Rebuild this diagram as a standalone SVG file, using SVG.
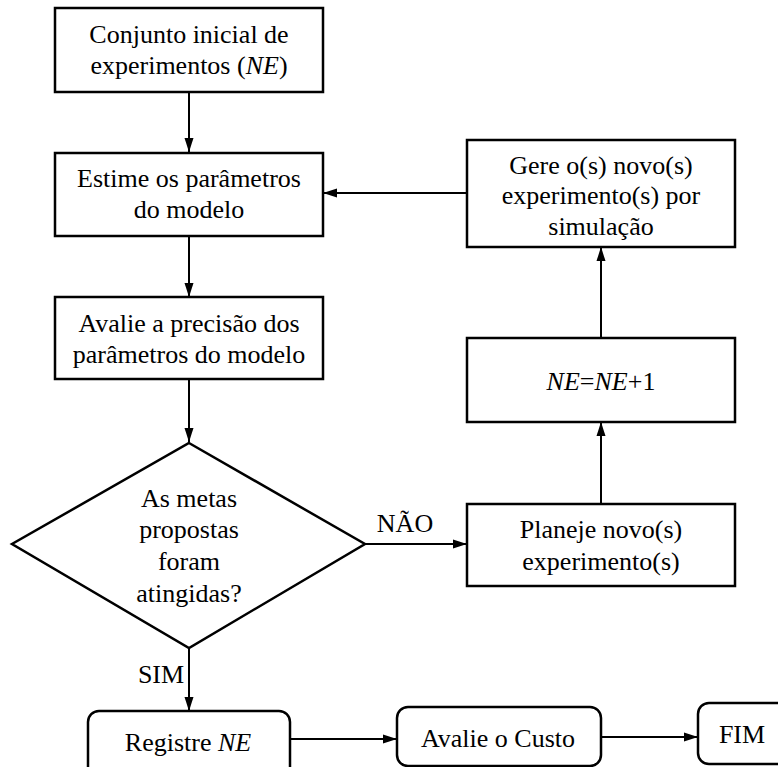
<svg xmlns="http://www.w3.org/2000/svg" width="778" height="767" viewBox="0 0 778 767">
<style>
.box{fill:#fff;stroke:#000;stroke-width:2.5}
.t{font-family:'Liberation Serif',serif;font-size:26px;fill:#000;text-anchor:middle}
.c{stroke:#000;stroke-width:2;fill:none;marker-end:url(#ah)}
</style>
<defs>
<marker id="ah" markerUnits="userSpaceOnUse" markerWidth="14" markerHeight="10" refX="14" refY="5" orient="auto">
<path d="M0,0.5 L14,5 L0,9.5 z" fill="#000"/>
</marker>
</defs>
<rect width="778" height="767" fill="#fff"/>
<g id="connectors">
<line class="c" x1="189" y1="92" x2="189" y2="152"/>
<line class="c" x1="189" y1="236" x2="189" y2="297"/>
<line class="c" x1="189" y1="379" x2="189" y2="442"/>
<line class="c" x1="365" y1="544" x2="467" y2="544"/>
<line class="c" x1="601" y1="504" x2="601" y2="422"/>
<line class="c" x1="601" y1="338" x2="601" y2="247"/>
<line class="c" x1="467" y1="193" x2="323" y2="193"/>
<line class="c" x1="189" y1="648" x2="189" y2="711"/>
<line class="c" x1="290" y1="739" x2="397" y2="739"/>
<line class="c" x1="601" y1="737" x2="698" y2="737"/>
</g>
<g id="n1">
<rect class="box" x="55" y="8" width="268" height="84"/>
<text class="t" x="189" y="43">Conjunto inicial de</text>
<text class="t" x="189" y="74">experimentos (<tspan font-style="italic">NE</tspan>)</text>
</g>
<g id="n2">
<rect class="box" x="55" y="153" width="268" height="83"/>
<text class="t" x="189" y="187">Estime os parâmetros</text>
<text class="t" x="189" y="218">do modelo</text>
</g>
<g id="n3">
<rect class="box" x="55" y="297" width="268" height="82"/>
<text class="t" x="189" y="332">Avalie a precisão dos</text>
<text class="t" x="189" y="363">parâmetros do modelo</text>
</g>
<g id="decision">
<polygon class="box" points="189,443 365,544 189,648 12,544"/>
<text class="t" x="189" y="507">As metas</text>
<text class="t" x="189" y="538">propostas</text>
<text class="t" x="189" y="570">foram</text>
<text class="t" x="189" y="602">atingidas?</text>
</g>
<g id="lbl-nao"><text class="t" x="405" y="532">NÃO</text></g>
<g id="lbl-sim"><text class="t" x="161" y="683">SIM</text></g>
<g id="gere">
<rect class="box" x="467" y="140" width="268" height="107"/>
<text class="t" x="601" y="174">Gere o(s) novo(s)</text>
<text class="t" x="601" y="204">experimento(s) por</text>
<text class="t" x="601" y="235">simulação</text>
</g>
<g id="incr">
<rect class="box" x="467" y="338" width="268" height="84"/>
<text class="t" x="601" y="390"><tspan font-style="italic">NE</tspan>=<tspan font-style="italic">NE</tspan>+1</text>
</g>
<g id="planeje">
<rect class="box" x="467" y="504" width="268" height="82"/>
<text class="t" x="601" y="538">Planeje novo(s)</text>
<text class="t" x="601" y="570">experimento(s)</text>
</g>
<g id="registre">
<rect class="box" x="88" y="711" width="202" height="70" rx="11"/>
<text class="t" x="188" y="751">Registre <tspan font-style="italic">NE</tspan></text>
</g>
<g id="custo">
<rect class="box" x="397" y="707" width="204" height="59" rx="11"/>
<text class="t" x="498" y="747">Avalie o Custo</text>
</g>
<g id="fim">
<rect class="box" x="698" y="703" width="100" height="61" rx="11"/>
<text class="t" x="742" y="743">FIM</text>
</g>
</svg>
